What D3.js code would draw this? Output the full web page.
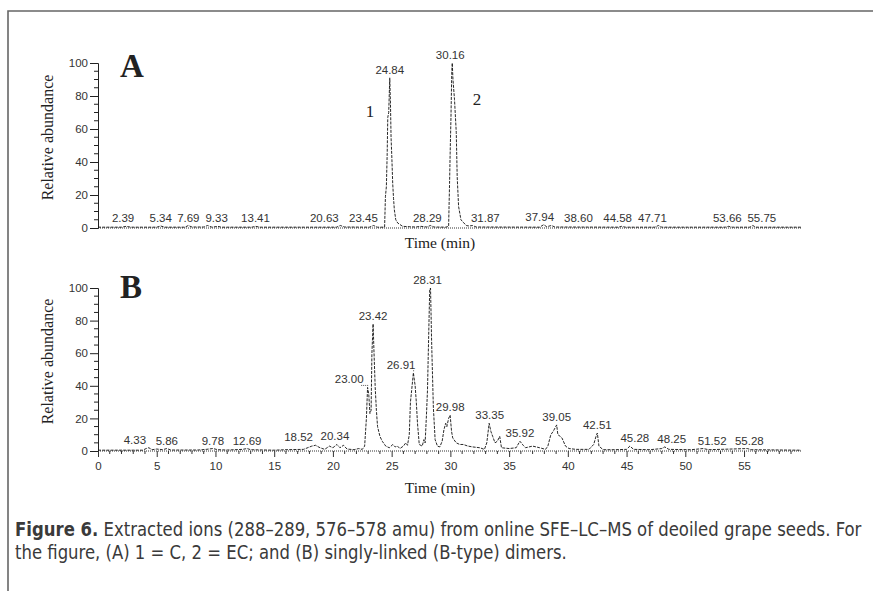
<!DOCTYPE html>
<html>
<head>
<meta charset="utf-8">
<script src="https://cdn.jsdelivr.net/npm/d3@7"></script>
<style>
body { margin: 0; background: #fff; }
.tick-label { font-family: 'Liberation Sans', Arial, sans-serif; font-size: 11.5px; fill: #333; }
.serif { font-family: 'Liberation Serif', 'Times New Roman', serif; fill: #222; }
.caption { font-family: 'Liberation Sans Narrow', 'Arial Narrow', 'DejaVu Sans Condensed', sans-serif; font-size: 19.5px; fill: #3a3a3a; }
</style>
</head>
<body>
<div id="canvas"></div>
<script>
const timeTicks = [0, 5, 10, 15, 20, 25, 30, 35, 40, 45, 50, 55];
const abundanceTicks = [0, 20, 40, 60, 80, 100];

// trace A: [time (min), relative abundance]
const traceA = [[0,0.5],[2.0,0.5],[2.39,1],[2.8,0.5],[5.0,0.5],[5.34,1.2],[5.7,0.5],[7.4,0.5],[7.69,1.5],[8.0,0.6],[9.0,0.6],[9.33,1.5],[9.7,0.5],[10.2,1.0],[10.5,0.5],[13.1,0.5],[13.41,1.0],[13.8,0.5],[20.3,0.5],[20.63,1.5],[21.0,0.6],[23.1,0.5],[23.45,1.5],[23.8,0.5],[24.4,0.5],[24.47,19],[24.55,25],[24.62,45],[24.67,67],[24.75,70],[24.84,91],[24.9,75],[24.95,55],[25.02,42],[25.09,27],[25.16,18],[25.23,11],[25.35,5],[25.52,3],[25.94,1],[26.5,0.8],[27.0,0.6],[27.5,1.0],[28.0,0.6],[28.29,1.5],[28.6,0.6],[29.6,0.5],[29.85,1],[29.93,27],[29.98,45],[30.05,67],[30.12,95],[30.16,100],[30.22,90],[30.35,78],[30.5,58],[30.58,31],[30.7,13],[30.9,5],[31.35,1.5],[31.6,1.2],[31.87,1.5],[32.2,0.6],[37.6,0.5],[37.94,2],[38.2,0.8],[38.6,1.5],[38.9,0.6],[44.3,0.5],[44.58,1.0],[44.9,0.5],[47.4,0.5],[47.71,1.5],[48.0,0.5],[53.4,0.5],[53.66,1.0],[54.0,0.5],[55.5,0.5],[55.75,1.5],[56.0,0.5],[59.85,0.5]];

// trace B: [time (min), relative abundance]
const traceB = [[0,0.5],[3.8,0.5],[4.1,1.5],[4.33,2],[4.6,0.8],[5.0,1.2],[5.5,0.8],[5.86,1.5],[6.2,0.6],[8.5,0.6],[9.2,1],[9.78,1.5],[10.2,0.8],[11.0,0.6],[12.3,1],[12.69,1.5],[13.0,0.8],[15.0,0.5],[16.0,0.8],[17.5,1],[18.2,3],[18.52,3.5],[18.9,2],[19.3,1],[19.7,3],[20.0,2],[20.34,4],[20.6,2],[20.9,3.5],[21.2,1.2],[21.8,0.8],[22.2,1.5],[22.5,1],[22.7,3],[22.85,20],[22.95,39],[23.05,35],[23.15,23],[23.25,25],[23.32,60],[23.42,78],[23.5,60],[23.6,39],[23.7,25],[23.8,15],[24.0,9],[24.2,6],[24.5,3],[24.8,2],[25.1,4],[25.3,2.5],[25.5,3],[25.7,1.5],[26.0,3],[26.2,5],[26.35,3.5],[26.5,10],[26.6,30],[26.7,37],[26.85,48],[27.0,40],[27.1,30],[27.2,17],[27.35,4],[27.6,3],[27.75,7],[27.85,5],[27.95,20],[28.05,37],[28.15,70],[28.24,99],[28.31,100],[28.4,68],[28.55,27],[28.7,7],[28.9,3],[29.1,2.5],[29.3,6],[29.45,13],[29.6,17],[29.7,15],[29.85,20],[29.98,22],[30.1,12],[30.2,8],[30.5,5],[30.8,4],[31.1,4],[31.5,3],[31.9,2.5],[32.5,2],[32.9,1],[33.1,5],[33.3,17],[33.45,12],[33.6,9],[33.8,5],[34.0,6],[34.2,9],[34.35,2],[35.0,1.5],[35.6,2],[35.92,6],[36.2,3.5],[36.4,2],[37.0,3],[37.6,2],[38.1,1],[38.3,3],[38.55,10],[38.75,12],[39.05,16],[39.15,10],[39.35,9],[39.5,8],[39.8,3],[40.1,1.5],[40.7,1],[41.8,1],[42.2,4],[42.4,9],[42.51,11],[42.65,3],[43.0,0.8],[44.0,0.8],[45.0,1],[45.28,3],[45.6,1],[47.0,0.8],[48.0,1.5],[48.25,2.5],[48.6,1],[50.5,0.8],[51.52,1.5],[52,0.8],[55.28,1.5],[55.6,0.8],[59.85,0.5]];

// labelled peaks: [retention time, apex abundance]
const peaksA = [[2.39,1],[5.34,1.2],[7.69,1.5],[9.33,1.5],[13.41,1],[20.63,1.5],[23.45,1.5],[24.84,91],[28.29,1.5],[30.16,100],[31.87,1.5],[37.94,2],[38.60,1.5],[44.58,1],[47.71,1.5],[53.66,1],[55.75,1.5]];
const peaksB = [[4.33,2],[5.86,1.5],[9.78,1.5],[12.69,1.5],[18.52,3.5],[20.34,4],[23.00,39],[23.42,78],[26.91,48],[28.31,100],[29.98,22],[33.35,17],[35.92,6],[39.05,16],[42.51,11],[45.28,3],[48.25,2.5],[51.52,1.5],[55.28,1.5]];

// compound numbers in A: [text, time, abundance]
const compoundsA = [['1', 23.16, 67], ['2', 32.27, 74.5]];

// small horizontal nudges for crowded labels (px)
const nudgeA = { '2.39': -3, '9.33': 9, '20.63': -16, '23.45': -10, '28.29': -3, '30.16': -2, '31.87': 13, '37.94': -4, '38.60': 27, '44.58': -4, '47.71': -6, '53.66': -1, '55.75': 9 };
const nudgeB = { '4.33': -14, '18.52': -17, '20.34': -2, '23.00': -19, '26.91': -13, '28.31': -3, '45.28': 5, '48.25': 7, '51.52': 9, '55.28': 2 };
const leaderB = ['23.00', '26.91'];

const w = 873;
const h = 591;

const svg = d3.select('#canvas')
  .append('svg')
  .attr('width', w)
  .attr('height', h);

svg.append('rect').attr('width', w).attr('height', h).attr('fill', '#fff');

// frame
svg.append('path')
  .attr('d', 'M8,591 V11 H873')
  .attr('fill', 'none')
  .attr('stroke', '#666')
  .attr('stroke-width', 1.6);

const x = d3.scaleLinear().domain([0, 59.85]).range([98, 801]);

function drawPanel(opts) {
  const y = d3.scaleLinear().domain([0, 100]).range([opts.y0, opts.y100]);
  const g = svg.append('g');

  // y axis
  const yAxis = d3.axisLeft(y).tickValues(abundanceTicks).tickSize(8).tickPadding(2);
  const ya = g.append('g').attr('transform', 'translate(98,0)').call(yAxis);
  ya.select('.domain').attr('stroke', '#222');
  ya.selectAll('.tick line').attr('stroke', '#222');
  ya.selectAll('.tick text').attr('class', 'tick-label').attr('fill', null);
  const yMinor = d3.range(5, 100, 5).filter(v => v % 20 !== 0);
  g.append('g').selectAll('line').data(yMinor).enter().append('line')
    .attr('x1', 94).attr('x2', 98)
    .attr('y1', d => y(d)).attr('y2', d => y(d))
    .attr('stroke', '#222');

  // x axis line (dotted)
  g.append('line')
    .attr('x1', x.range()[0]).attr('x2', x.range()[1])
    .attr('y1', opts.y0).attr('y2', opts.y0)
    .attr('stroke', '#333').attr('stroke-dasharray', '1,1');

  if (opts.ticks) {
    const xAxis = d3.axisBottom(x).tickValues(timeTicks).tickSize(6).tickPadding(5);
    const xa = g.append('g').attr('transform', 'translate(0,' + opts.y0 + ')').call(xAxis);
    xa.select('.domain').remove();
    xa.selectAll('.tick line').attr('stroke', '#333');
    xa.selectAll('.tick text').attr('class', 'tick-label').attr('fill', null);
    g.append('g').selectAll('line').data(d3.range(1, 60).filter(v => v % 5 !== 0)).enter().append('line')
      .attr('x1', d => x(d)).attr('x2', d => x(d))
      .attr('y1', opts.y0).attr('y2', opts.y0 + 3)
      .attr('stroke', '#333');
  }

  // trace
  g.append('path')
    .datum(opts.trace)
    .attr('fill', 'none')
    .attr('stroke', '#111')
    .attr('stroke-width', 0.9)
    .attr('stroke-dasharray', '3,1.2')
    .attr('d', d3.line().x(d => x(d[0])).y(d => y(d[1])));

  // peak labels
  g.append('g').selectAll('text').data(opts.peaks).enter().append('text')
    .attr('class', 'tick-label')
    .attr('text-anchor', 'middle')
    .attr('x', d => x(d[0]) + (opts.nudge[d[0].toFixed(2)] || 0))
    .attr('y', d => y(d[1]) - 4)
    .text(d => d[0].toFixed(2));

  // dotted leaders for shifted labels
  g.append('g').selectAll('line').data(opts.peaks.filter(d => opts.leaders.includes(d[0].toFixed(2)))).enter().append('line')
    .attr('x1', d => x(d[0]) + opts.nudge[d[0].toFixed(2)] + 12)
    .attr('x2', d => x(d[0]))
    .attr('y1', d => y(d[1]) - 2).attr('y2', d => y(d[1]) - 2)
    .attr('stroke', '#555').attr('stroke-dasharray', '1,1');

  // panel letter
  g.append('text').attr('class', 'serif')
    .attr('x', 120).attr('y', opts.letterY)
    .style('font-size', '33px')
    .style('font-weight', 'bold')
    .text(opts.letter);

  // axis titles
  g.append('text').attr('class', 'serif')
    .attr('transform', 'translate(53,' + ((opts.y0 + opts.y100) / 2 - 8) + ') rotate(-90)')
    .attr('text-anchor', 'middle')
    .style('font-size', '16px')
    .text('Relative abundance');

  g.append('text').attr('class', 'serif')
    .attr('x', 440).attr('y', opts.titleY)
    .attr('text-anchor', 'middle')
    .style('font-size', '15.5px')
    .text('Time (min)');

  return y;
}

const yA = drawPanel({ y0: 228, y100: 63, trace: traceA, peaks: peaksA, nudge: nudgeA, leaders: [], ticks: false, letter: 'A', letterY: 77, titleY: 248 });
drawPanel({ y0: 451, y100: 288, trace: traceB, peaks: peaksB, nudge: nudgeB, leaders: leaderB, ticks: true, letter: 'B', letterY: 298, titleY: 493 });

svg.append('g').selectAll('text').data(compoundsA).enter().append('text')
  .attr('class', 'serif')
  .attr('text-anchor', 'middle')
  .attr('x', d => x(d[1]))
  .attr('y', d => yA(d[2]))
  .style('font-size', '17px')
  .text(d => d[0]);

// caption
const cap1 = svg.append('text').attr('class', 'caption');
cap1.append('tspan').style('font-weight', 'bold').text('Figure 6.');
cap1.append('tspan').text(' Extracted ions (288–289, 576–578 amu) from online SFE–LC–MS of deoiled grape seeds. For');
const cap2 = svg.append('text').attr('class', 'caption')
  .text('the figure, (A) 1 = C, 2 = EC; and (B) singly-linked (B-type) dimers.');

[[cap1, 536, 847], [cap2, 559, 552]].forEach(([t, yy, target]) => {
  const len = t.node().getComputedTextLength();
  t.attr('transform', 'translate(15,' + yy + ') scale(' + (target / len) + ',1)');
});
</script>
</body>
</html>
